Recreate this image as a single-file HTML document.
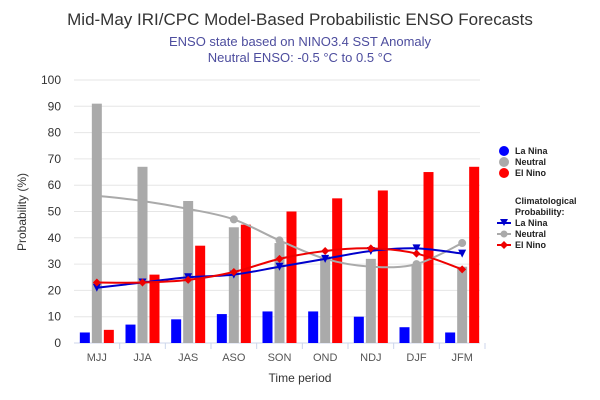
<!DOCTYPE html>
<html><head><meta charset="utf-8"><style>
body{margin:0;background:#fff;}
svg{font-family:"Liberation Sans",sans-serif;display:block;}
</style></head><body>
<svg id="c" width="600" height="400">
<text x="300" y="25" text-anchor="middle" font-size="17" fill="#333">Mid-May IRI/CPC Model-Based Probabilistic ENSO Forecasts</text>
<text x="300" y="46" text-anchor="middle" font-size="13" fill="#4d4d9e">ENSO state based on NINO3.4 SST Anomaly</text>
<text x="300" y="62" text-anchor="middle" font-size="13" fill="#4d4d9e">Neutral ENSO: -0.5 °C to 0.5 °C</text>
<g id="grid"></g><g id="bars"></g><g id="lines"></g><g id="axes"></g>
<text x="300" y="382" text-anchor="middle" font-size="12" fill="#333">Time period</text>
<text transform="translate(26,212) rotate(-90)" text-anchor="middle" font-size="12" fill="#333">Probability (%)</text>
<g font-size="9" font-weight="bold" fill="#222">
<g><circle cx="504" cy="151" r="5" fill="#0000ff"/><text x="515" y="154">La Nina</text></g>
<g><circle cx="504" cy="162" r="5" fill="#aaaaaa"/><text x="515" y="165">Neutral</text></g>
<g><circle cx="504" cy="173" r="5" fill="#ff0000"/><text x="515" y="176">El Nino</text></g>
<text x="515" y="204">Climatological</text><text x="515" y="215">Probability:</text>
<g><line x1="497" y1="223" x2="511" y2="223" stroke="#0000cc" stroke-width="2"/><path d="M500,219 L508,219 L504,226Z" fill="#0000cc"/><text x="515" y="226">La Nina</text></g>
<g><line x1="497" y1="234" x2="511" y2="234" stroke="#aaa" stroke-width="2"/><circle cx="504" cy="234" r="3.5" fill="#aaa"/><text x="515" y="237">Neutral</text></g>
<g><line x1="497" y1="245" x2="511" y2="245" stroke="#e00" stroke-width="2"/><path d="M504,241 L508,245 L504,249 L500,245Z" fill="#e00"/><text x="515" y="248">El Nino</text></g>
</g>
</svg>
<script>
const categories=["MJJ","JJA","JAS","ASO","SON","OND","NDJ","DJF","JFM"];
const laNina=[4,7,9,11,12,12,10,6,4];
const neutral=[91,67,54,44,38,33,32,30,29];
const elNino=[5,26,37,45,50,55,58,65,67];
const climLaNina=[21,23,25,26,29,32,35,36,34];
const climNeutral=[56,54,51,47,39,32,29,30,38];
const climElNino=[23,23,24,27,32,35,36,34,28];
const yTicks=[0,10,20,30,40,50,60,70,80,90,100];

const NS="http://www.w3.org/2000/svg";
const X0=74,X1=485,Y0=343,Y1=80;
const step=(X1-X0)/categories.length;
const xc=i=>X0+step*(i+0.5);
const y=v=>Y0-(Y0-Y1)*v/100;
function mk(t,a,p){const e=document.createElementNS(NS,t);for(const k in a)e.setAttribute(k,a[k]);p.appendChild(e);return e;}
const grid=document.getElementById('grid'),bars=document.getElementById('bars'),lines=document.getElementById('lines'),axes=document.getElementById('axes');
yTicks.forEach(t=>{
  const l=mk('line',{x1:X0,x2:X1-5,y1:y(t),y2:y(t),stroke:t===0?'#ccd6eb':'#e6e6e6','stroke-width':1},grid);
  
  
  const tx=mk('text',{x:X0-13,y:y(t)+4,'text-anchor':'end','font-size':'12',fill:'#333'},axes);
  tx.textContent=t;
  
  
});
categories.forEach((c,i)=>{
  const tx=mk('text',{x:xc(i),y:Y0+18,'text-anchor':'middle','font-size':'11',fill:'#555'},axes);
  tx.textContent=c;
  
  
  const tk=mk('line',{x1:X0+step*(i+1),x2:X0+step*(i+1),y1:Y0,y2:Y0+6,stroke:'#ccd6eb'},axes);
  
  
  [[laNina,'#0000ff','la-nina',-12],[neutral,'#aaaaaa','neutral',0],[elNino,'#ff0000','el-nino',12]].forEach(s=>{
    const v=s[0][i];
    const r=mk('rect',{x:xc(i)+s[3]-5,y:y(v),width:10,height:Y0-y(v),fill:s[1]},bars);
    
    
  });
});
function smooth(vals){
  const p=vals.map((v,i)=>[xc(i),y(v)]);
  let d='M'+p[0][0]+','+p[0][1];
  for(let i=0;i<p.length-1;i++){
    const a=p[i-1]||p[i],b=p[i],c2=p[i+1],e=p[i+2]||c2;
    d+=' C'+(b[0]+(c2[0]-a[0])/6)+','+(b[1]+(c2[1]-a[1])/6)+' '+(c2[0]-(e[0]-b[0])/6)+','+(c2[1]-(e[1]-b[1])/6)+' '+c2[0]+','+c2[1];
  }
  return d;
}
[[climNeutral,'#aaaaaa','neutral'],[climLaNina,'#0000cc','la-nina'],[climElNino,'#ee0000','el-nino']].forEach(s=>{
  const pth=mk('path',{d:smooth(s[0]),fill:'none',stroke:s[1],'stroke-width':2},lines);
  
  
  s[0].forEach((v,i)=>{
    const X=xc(i),Y=y(v);let m;
    if(s[2]==='neutral')m=mk('circle',{cx:X,cy:Y,r:4,fill:s[1]},lines);
    else if(s[2]==='la-nina')m=mk('path',{d:`M${X-4},${Y-4} L${X+4},${Y-4} L${X},${Y+4}Z`,fill:s[1]},lines);
    else m=mk('path',{d:`M${X},${Y-4} L${X+4},${Y} L${X},${Y+4} L${X-4},${Y}Z`,fill:s[1]},lines);
    
    
  });
});
</script>
</body></html>
